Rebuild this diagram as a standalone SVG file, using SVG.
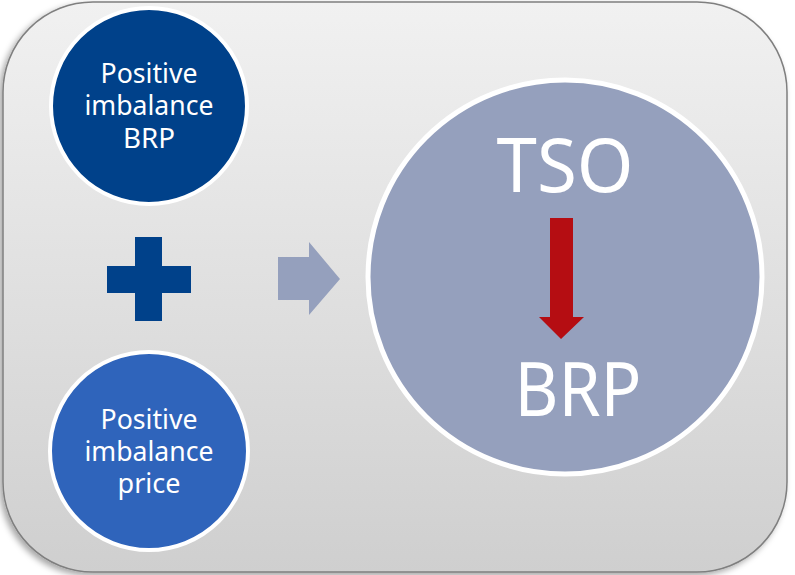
<svg xmlns="http://www.w3.org/2000/svg" width="795" height="575" viewBox="0 0 795 575">
<defs>
<linearGradient id="bg" x1="0" y1="0" x2="0" y2="1">
<stop offset="0" stop-color="#f1f1f1"/>
<stop offset="1" stop-color="#cfcfcf"/>
</linearGradient>
<filter id="sh" x="-5%" y="-5%" width="110%" height="110%">
<feDropShadow dx="-3" dy="3" stdDeviation="3" flood-color="#000" flood-opacity="0.35"/>
</filter>
<style>
.t{font-family:"Noto Sans","DejaVu Sans",Verdana,sans-serif;fill:#fff;text-anchor:middle}
.s{font-size:27px}
.b{font-size:75px}
.c{stroke:#fff;stroke-width:4}
</style>
</defs>
<rect x="0" y="0" width="795" height="575" fill="#fff"/>
<rect id="frame" x="3" y="2" width="784" height="570" rx="90" ry="90" fill="url(#bg)" stroke="#7f7f7f" stroke-width="1.5" filter="url(#sh)"/>
<g id="node-brp">
<circle class="c" cx="149" cy="106" r="98" fill="#00418a"/>
<text class="t s" x="149" y="83" textLength="97" lengthAdjust="spacingAndGlyphs">Positive</text>
<text class="t s" x="149" y="115" textLength="129" lengthAdjust="spacingAndGlyphs">imbalance</text>
<text class="t s" x="149" y="148" textLength="52" lengthAdjust="spacingAndGlyphs">BRP</text>
</g>
<g id="node-plus">
<rect x="135" y="237" width="27" height="84" fill="#00418a"/>
<rect x="107" y="266" width="84" height="27" fill="#00418a"/>
</g>
<g id="node-price">
<circle class="c" cx="149" cy="451" r="99" fill="#2f64bb"/>
<text class="t s" x="149" y="429" textLength="97" lengthAdjust="spacingAndGlyphs">Positive</text>
<text class="t s" x="149" y="461" textLength="129" lengthAdjust="spacingAndGlyphs">imbalance</text>
<text class="t s" x="149" y="493">price</text>
</g>
<g id="connectors">
<polygon points="278,257 309,257 309,242 340,279 309,315 309,300 278,300" fill="#95a0bd"/>
</g>
<g id="node-tso">
<circle cx="565" cy="277" r="197" fill="#95a0bd" stroke="#fff" stroke-width="5"/>
<text class="t b" x="565" y="192" textLength="137" lengthAdjust="spacingAndGlyphs">TSO</text>
<polygon points="550,218 573,218 573,317 584,317 561,339 539,317 550,317" fill="#b50d12"/>
<text class="t b" x="578" y="416" textLength="127" lengthAdjust="spacingAndGlyphs">BRP</text>
</g>
</svg>
